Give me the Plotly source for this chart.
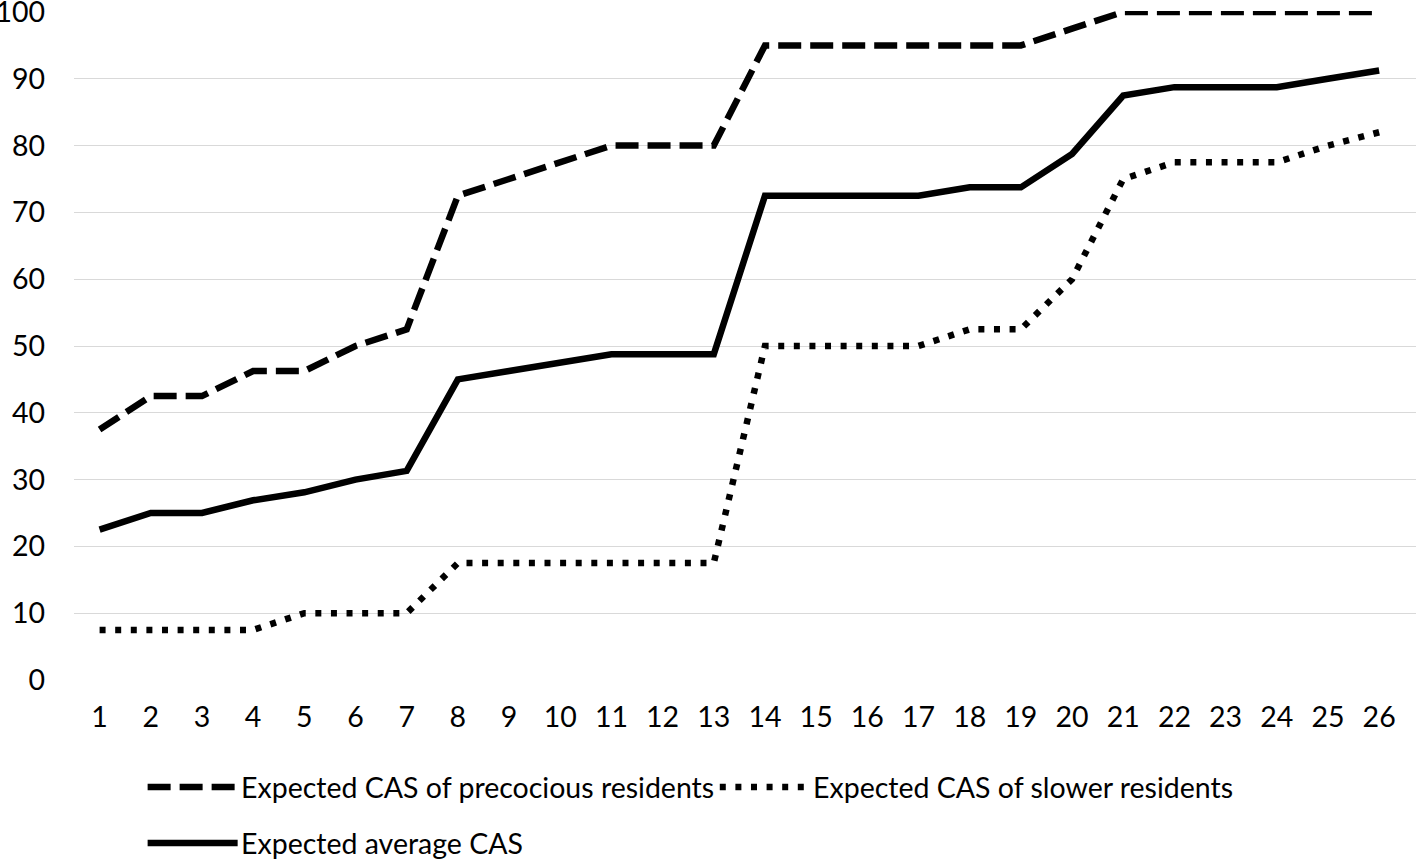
import plotly.graph_objects as go

months = list(range(1, 27))
precocious = [37.5, 42.5, 42.5, 46.25, 46.25, 50, 52.5, 72.5, 75, 77.5, 80, 80, 80,
              95, 95, 95, 95, 95, 95, 97.5, 100, 100, 100, 100, 100, 100]
slower = [7.5, 7.5, 7.5, 7.5, 10, 10, 10, 17.5, 17.5, 17.5, 17.5, 17.5, 17.5,
          50, 50, 50, 50, 52.5, 52.5, 60, 75, 77.5, 77.5, 77.5, 80, 82]
average = [22.5, 25, 25, 26.9, 28.1, 30, 31.3, 45, 46.25, 47.5, 48.75, 48.75, 48.75,
           72.5, 72.5, 72.5, 72.5, 73.75, 73.75, 78.75, 87.5, 88.75, 88.75, 88.75, 90, 91.25]
names = ["Expected CAS of precocious residents", "Expected CAS of slower residents",
         "Expected average CAS"]
y_ticks = list(range(0, 101, 10))

FONT = "Lato"
FS = 28.5
DASH = "23px,9px"
DOT = "6px,9.6px"
LW = 6.5

fig = go.Figure()
fig.add_trace(go.Scatter(x=months, y=precocious, mode="lines", name=names[0],
                         line=dict(color="black", width=LW, dash=DASH)))
fig.add_trace(go.Scatter(x=months, y=slower, mode="lines", name=names[1],
                         line=dict(color="black", width=LW, dash=DOT)))
fig.add_trace(go.Scatter(x=months, y=average, mode="lines", name=names[2],
                         line=dict(color="black", width=LW)))

W, H = 1416, 859
ml, mt, mb = 74.4, 10.5, 178
fig.update_layout(
    width=W, height=H,
    margin=dict(l=ml, r=0, t=mt, b=mb, pad=0),
    plot_bgcolor="white", paper_bgcolor="white",
    showlegend=False,
    font=dict(family=FONT, size=FS, color="black"),
    xaxis=dict(range=[0.5, 26.72], tickmode="array", tickvals=months,
               ticktext=[str(m) for m in months], showgrid=False, zeroline=False,
               showline=False, ticks="", ticklabelstandoff=16, automargin=False,
               tickfont=dict(family=FONT, size=FS, color="black")),
    yaxis=dict(range=[-0.15, 100.15], tickmode="array", tickvals=y_ticks,
               showgrid=True, gridcolor="#d9d9d9", gridwidth=1.3, zeroline=False,
               showline=False, ticks="", ticklabelstandoff=28, automargin=False,
               ticklabeloverflow="allow",
               tickfont=dict(family=FONT, size=FS, color="black")),
)


def to_paper_y(ypx):
    return (H - mb - ypx) / (H - mt - mb)


def to_paper_x(xpx):
    return (xpx - ml) / (W - ml)


legend_items = [
    (names[0], DASH, 148, 238, 787),
    (names[1], DOT, 720, 810, 787),
    (names[2], "solid", 148, 238, 843),
]
for text, dash, x0, x1, yy in legend_items:
    fig.add_shape(type="line", xref="paper", yref="paper",
                  x0=to_paper_x(x0), x1=to_paper_x(x1),
                  y0=to_paper_y(yy), y1=to_paper_y(yy),
                  line=dict(color="black", width=LW, dash=dash))
    fig.add_annotation(xref="paper", yref="paper", x=to_paper_x(x1 + 1),
                       y=to_paper_y(yy), text=text, showarrow=False,
                       xanchor="left", yanchor="middle",
                       font=dict(family=FONT, size=FS, color="black"))

fig.write_html("out.html", config={"displayModeBar": False},
               post_script="document.body.style.margin='0';document.body.style.overflow='hidden';")
